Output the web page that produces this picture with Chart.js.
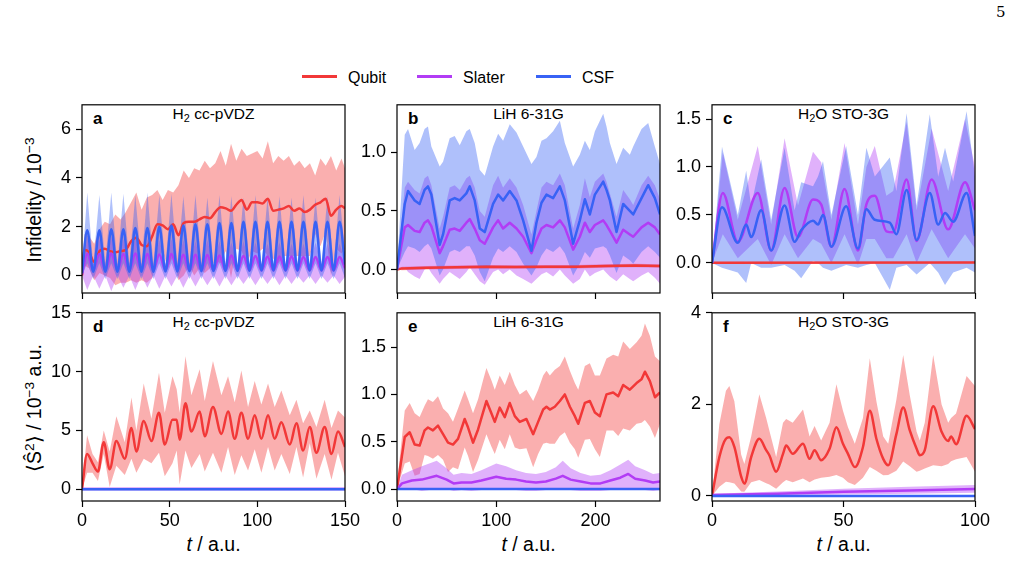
<!DOCTYPE html>
<html>
<head>
<meta charset="utf-8">
<script src="https://cdn.jsdelivr.net/npm/chart.js@4.4.1/dist/chart.umd.min.js"></script>
<style>
html,body{margin:0;padding:0;background:#fff;}
body{width:1013px;height:561px;position:relative;overflow:hidden;font-family:"Liberation Sans",Arial,Helvetica,sans-serif;color:#000;}
canvas{position:absolute;}
.t{position:absolute;white-space:nowrap;line-height:1;}
.lt{font-weight:bold;font-size:17px;}
.ttl{font-size:15.5px;transform:translateX(-50%);}
.xl{font-size:19.5px;transform:translateX(-50%);}
.yl{font-size:19.5px;transform:translate(-50%,-50%) rotate(-90deg);}
sub,sup{font-size:70%;line-height:0;}
sub{vertical-align:-0.3em;}
sup{vertical-align:0.55em;}
.lg{position:absolute;height:3px;}
</style>
</head>
<body>
<div class="t" style="left:996px;top:5px;font-family:'DejaVu Serif','Liberation Serif',serif;font-size:15px;">5</div>

<div class="lg" style="left:302px;top:75px;width:35px;background:rgb(242,56,56);"></div>
<div class="t" style="left:348px;top:70px;font-size:16px;">Qubit</div>
<div class="lg" style="left:417px;top:75px;width:35px;background:rgb(178,60,245);"></div>
<div class="t" style="left:463px;top:70px;font-size:16px;">Slater</div>
<div class="lg" style="left:536px;top:75px;width:35px;background:rgb(56,98,245);"></div>
<div class="t" style="left:582px;top:70px;font-size:16px;">CSF</div>

<div class="t yl" style="left:35px;top:200px;">Infidelity / 10<sup>−3</sup></div>
<div class="t yl" style="left:35px;top:408px;">⟨Ŝ<sup>2</sup>⟩ / 10<sup>−3</sup> a.u.</div>
<div class="t xl" style="left:213.5px;top:535px;"><i>t</i> / a.u.</div>
<div class="t xl" style="left:528.5px;top:535px;"><i>t</i> / a.u.</div>
<div class="t xl" style="left:843.5px;top:535px;"><i>t</i> / a.u.</div>

<div class="t lt" style="left:93px;top:110px;">a</div>
<div class="t lt" style="left:408px;top:110px;">b</div>
<div class="t lt" style="left:723px;top:110px;">c</div>
<div class="t lt" style="left:93px;top:318px;">d</div>
<div class="t lt" style="left:408px;top:318px;">e</div>
<div class="t lt" style="left:723px;top:318px;">f</div>

<div class="t ttl" style="left:213.5px;top:106px;">H<sub>2</sub> cc-pVDZ</div>
<div class="t ttl" style="left:528.5px;top:106px;">LiH 6-31G</div>
<div class="t ttl" style="left:843.5px;top:106px;">H<sub>2</sub>O STO-3G</div>
<div class="t ttl" style="left:213.5px;top:314px;">H<sub>2</sub> cc-pVDZ</div>
<div class="t ttl" style="left:528.5px;top:314px;">LiH 6-31G</div>
<div class="t ttl" style="left:843.5px;top:314px;">H<sub>2</sub>O STO-3G</div>

<script>
// ---------- categories / tick labels ----------
const SERIES_NAMES = ['Qubit', 'Slater', 'CSF'];
const X_TICKS_H2 = [0, 50, 100, 150];
const X_TICKS_LIH = [0, 100, 200];
const X_TICKS_H2O = [0, 50, 100];
const Y_TICKS_A = [0, 2, 4, 6];
const Y_TICKS_B = [0, 0.5, 1.0];
const Y_TICKS_C = [0, 0.5, 1.0, 1.5];
const Y_TICKS_D = [0, 5, 10, 15];
const Y_TICKS_E = [0, 0.5, 1.0, 1.5];
const Y_TICKS_F = [0, 2, 4];

// ---------- panel a : H2 cc-pVDZ infidelity ----------
const a_t = [0, 3, 6.4, 9.9, 13.3, 16.7, 20.2, 23.6, 27, 30.4, 33.9, 37.3, 40.7, 44.1, 47.6, 51, 54.4, 57.8, 61.3, 64.7, 68.1, 71.5, 75, 78.4, 81.8, 85.2, 88.7, 92.1, 95.5, 98.9, 102.4, 105.8, 109.2, 112.6, 116.1, 119.5, 122.9, 126.3, 129.8, 133.2, 136.6, 140, 143.5, 146.9, 150];
const a_csf = [0.1, 1.85, 0.15, 1.85, 0.15, 1.9, 0.15, 1.9, 0.15, 1.95, 0.15, 1.95, 0.15, 2.0, 0.16, 2.05, 0.16, 2.05, 0.17, 2.1, 0.17, 2.1, 0.18, 2.15, 0.18, 2.15, 0.18, 2.2, 0.19, 2.2, 0.2, 2.2, 0.2, 2.2, 0.2, 2.2, 0.2, 2.2, 0.2, 2.2, 0.2, 2.2, 0.2, 2.2, 0.45];
const a_csfHi = [0.3, 3.4, 0.45, 3.3, 0.5, 3.4, 0.45, 3.35, 0.5, 3.3, 0.45, 3.4, 0.5, 3.3, 0.45, 3.35, 0.5, 3.25, 0.45, 3.3, 0.5, 3.2, 0.45, 3.3, 0.5, 3.25, 0.45, 3.2, 0.5, 3.3, 0.45, 3.2, 0.5, 3.25, 0.45, 3.2, 0.5, 3.3, 0.45, 3.2, 0.5, 3.25, 0.45, 3.3, 0.9];
const a_csfLo = [0, 0.5, -0.15, 0.5, -0.15, 0.5, -0.15, 0.5, -0.15, 0.5, -0.15, 0.5, -0.15, 0.5, -0.15, 0.5, -0.15, 0.5, -0.15, 0.5, -0.15, 0.5, -0.15, 0.5, -0.15, 0.5, -0.15, 0.5, -0.15, 0.5, -0.15, 0.5, -0.15, 0.5, -0.15, 0.5, -0.15, 0.5, -0.15, 0.5, -0.15, 0.5, -0.15, 0.5, -0.1];
const a_slater = [0.05, 0.9, 0.2, 0.88, 0.2, 0.9, 0.2, 0.88, 0.2, 0.9, 0.2, 0.88, 0.2, 0.86, 0.2, 0.88, 0.2, 0.85, 0.2, 0.85, 0.2, 0.84, 0.2, 0.82, 0.2, 0.82, 0.2, 0.8, 0.2, 0.8, 0.2, 0.78, 0.2, 0.78, 0.2, 0.78, 0.2, 0.76, 0.2, 0.76, 0.2, 0.76, 0.2, 0.76, 0.3];
const a_slaterHi = [0.2, 1.55, 0.45, 1.5, 0.45, 1.6, 0.45, 1.5, 0.45, 1.55, 0.45, 1.5, 0.45, 1.45, 0.45, 1.5, 0.45, 1.45, 0.45, 1.4, 0.45, 1.45, 0.45, 1.4, 0.45, 1.35, 0.45, 1.4, 0.45, 1.35, 0.45, 1.3, 0.45, 1.35, 0.45, 1.3, 0.45, 1.3, 0.45, 1.35, 0.45, 1.3, 0.45, 1.3, 0.6];
const a_slaterLo = [0, -0.6, 0.0, -0.55, 0.0, -0.65, 0.0, -0.5, 0.0, -0.6, 0.0, -0.5, 0.0, -0.55, 0.0, -0.45, 0.0, -0.5, 0.0, -0.45, 0.0, -0.4, 0.0, -0.45, 0.0, -0.4, 0.0, -0.35, 0.0, -0.4, 0.0, -0.35, 0.0, -0.4, 0.0, -0.35, 0.0, -0.3, 0.0, -0.35, 0.0, -0.3, 0.0, -0.35, -0.05];
const a_tq = [0, 1.5, 4, 7, 10, 13, 16, 19, 22, 25, 28, 31, 34, 37, 40, 43, 46, 49, 52, 55, 58, 61, 64, 67, 70, 73, 76, 79, 82, 85, 88, 91, 94, 97, 100, 103, 106, 109, 112, 115, 118, 121, 124, 127, 130, 133, 136, 139, 142, 145, 148, 150];
const a_qubit = [0, 1.05, 0.95, 0.55, 1.0, 1.1, 1.0, 0.95, 1.0, 1.05, 1.4, 1.55, 1.25, 1.2, 1.6, 2.1, 2.05, 1.9, 2.1, 1.65, 2.15, 2.2, 2.2, 2.3, 2.4, 2.35, 2.6, 2.8, 2.75, 2.65, 2.9, 3.1, 2.7, 3.0, 3.0, 2.95, 3.15, 2.65, 2.7, 2.75, 2.85, 2.65, 2.75, 2.6, 2.7, 2.9, 3.0, 3.15, 2.45, 2.7, 2.85, 2.75];
const a_qubitHi = [0.3, 1.7, 1.6, 1.3, 1.9, 2.2, 2.1, 2.5, 2.3, 2.6, 3.0, 3.4, 2.7, 3.2, 3.3, 3.5, 3.1, 3.5, 3.4, 3.7, 4.3, 4.0, 4.4, 4.3, 4.7, 4.4, 4.6, 5.1, 4.5, 5.4, 4.7, 5.2, 4.9, 5.0, 5.1, 4.8, 5.5, 4.6, 4.9, 4.7, 4.9, 4.5, 4.7, 4.4, 4.6, 4.1, 4.8, 4.5, 4.9, 4.3, 4.8, 4.4];
const a_qubitLo = [0, 0.4, 0.3, -0.2, 0.1, 0.0, -0.1, -0.4, -0.3, -0.3, -0.2, -0.3, -0.2, -0.3, -0.1, 0.7, 1.0, 0.3, 0.8, -0.2, 0.0, 0.4, 0.0, 0.3, 0.1, 0.3, 0.6, 0.5, 1.0, -0.1, 1.1, 1.0, 0.5, 1.0, 0.9, 1.1, 0.8, 0.7, 0.5, 0.8, 0.8, 0.8, 0.8, 0.8, 0.8, 1.7, 1.2, 1.8, 0.0, 1.1, 0.9, 1.1];

// ---------- panel b : LiH 6-31G infidelity ----------
const b_t = [0, 7.8, 11.1, 17.8, 22.8, 27.8, 31.2, 34.6, 43, 46.4, 53.1, 58.1, 63.2, 69.9, 73.3, 78.3, 83.4, 88.4, 96.8, 101.9, 106.9, 113.6, 120.4, 127.1, 135.5, 140.5, 145.6, 150.6, 157.3, 164.1, 169.1, 177.5, 184.2, 189.3, 194.3, 199.4, 207.8, 211.1, 214.5, 221.2, 227.9, 234.6, 238, 246.4, 253.1, 259.8, 265];
const b_csf = [0, 0.56, 0.67, 0.59, 0.56, 0.68, 0.71, 0.64, 0.21, 0.3, 0.59, 0.61, 0.59, 0.65, 0.71, 0.59, 0.35, 0.32, 0.56, 0.64, 0.59, 0.67, 0.59, 0.42, 0.16, 0.4, 0.57, 0.64, 0.61, 0.71, 0.59, 0.22, 0.42, 0.6, 0.47, 0.64, 0.75, 0.68, 0.59, 0.32, 0.56, 0.5, 0.47, 0.61, 0.72, 0.61, 0.47];
const b_csfHi = [0, 1.15, 1.2, 1.02, 1.08, 1.2, 1.22, 1.05, 0.88, 0.92, 1.12, 1.14, 1.06, 1.18, 1.2, 1.08, 0.85, 0.8, 1.05, 1.16, 1.1, 1.24, 1.17, 1.05, 0.9, 0.96, 1.1, 1.12, 1.18, 1.27, 1.08, 0.88, 0.98, 1.1, 1.02, 1.18, 1.33, 1.22, 1.08, 0.9, 1.04, 0.98, 1.05, 1.2, 1.25, 1.05, 0.9];
const b_csfLo = [0, 0.15, 0.2, 0.18, 0.15, 0.2, 0.22, 0.18, -0.05, 0.0, 0.15, 0.17, 0.15, 0.2, 0.2, 0.12, -0.02, -0.1, 0.1, 0.18, 0.15, 0.2, 0.15, 0.05, -0.05, 0.02, 0.12, 0.18, 0.15, 0.2, 0.14, -0.05, 0.05, 0.15, 0.1, 0.18, 0.2, 0.18, 0.12, -0.03, 0.12, 0.08, 0.05, 0.15, 0.2, 0.15, 0.1];
const b_slater = [0, 0.36, 0.38, 0.33, 0.32, 0.4, 0.42, 0.37, 0.14, 0.2, 0.34, 0.35, 0.33, 0.4, 0.43, 0.35, 0.25, 0.22, 0.36, 0.42, 0.35, 0.4, 0.35, 0.28, 0.14, 0.25, 0.35, 0.38, 0.36, 0.42, 0.36, 0.17, 0.28, 0.4, 0.32, 0.38, 0.42, 0.38, 0.33, 0.23, 0.34, 0.3, 0.28, 0.36, 0.4, 0.36, 0.3];
const b_slaterHi = [0, 0.7, 0.75, 0.68, 0.65, 0.78, 0.8, 0.72, 0.35, 0.45, 0.7, 0.72, 0.68, 0.78, 0.8, 0.7, 0.5, 0.45, 0.72, 0.8, 0.7, 0.78, 0.7, 0.55, 0.3, 0.5, 0.7, 0.75, 0.72, 0.82, 0.72, 0.35, 0.55, 0.78, 0.62, 0.75, 0.82, 0.75, 0.65, 0.45, 0.68, 0.6, 0.55, 0.72, 0.8, 0.72, 0.6];
const b_slaterLo = [0, 0.02, -0.02, -0.06, -0.08, 0.0, 0.02, -0.03, -0.12, -0.08, -0.02, -0.05, -0.08, -0.02, 0.02, -0.04, -0.1, -0.13, -0.02, 0.0, -0.04, 0.0, -0.05, -0.08, -0.12, -0.08, -0.04, -0.02, -0.06, 0.0, -0.05, -0.12, -0.08, 0.0, -0.06, -0.03, 0.0, -0.03, -0.06, -0.1, -0.04, -0.08, -0.1, -0.05, -0.02, -0.07, -0.12];
const b_tq = [0, 5, 30, 60, 90, 120, 150, 180, 210, 240, 265];
const b_qubit = [0, 0.01, 0.015, 0.02, 0.025, 0.022, 0.025, 0.025, 0.03, 0.035, 0.03];
const b_qubitHi = [0, 0.025, 0.03, 0.035, 0.04, 0.037, 0.04, 0.04, 0.045, 0.05, 0.045];
const b_qubitLo = [0, -0.005, 0.0, 0.005, 0.01, 0.007, 0.01, 0.01, 0.015, 0.02, 0.015];

// ---------- panel c : H2O STO-3G infidelity ----------
const c_ts = [0, 4.1, 9.8, 17.4, 22.5, 27.6, 32.7, 38.4, 41.5, 45.4, 50.4, 55.5, 58.7, 61.9, 66.3, 68.9, 74, 77.8, 83.5, 89.8, 96.2, 100];
const c_slater = [0, 0.73, 0.22, 0.73, 0.13, 0.78, 0.27, 0.66, 0.61, 0.17, 0.77, 0.13, 0.61, 0.7, 0.33, 0.32, 0.87, 0.23, 0.87, 0.35, 0.84, 0.55];
const c_slaterHi = [0, 1.15, 0.45, 1.22, 0.4, 1.3, 0.6, 1.16, 1.05, 0.45, 1.25, 0.4, 1.0, 1.22, 0.7, 0.75, 1.47, 0.55, 1.4, 0.75, 1.5, 1.0];
const c_slaterLo = [0, 0.3, 0.05, 0.25, -0.02, 0.3, 0.05, 0.25, 0.2, 0.0, 0.3, -0.02, 0.25, 0.25, 0.05, 0.05, 0.3, 0.0, 0.35, 0.05, 0.3, 0.15];
const c_tc = [0, 3.8, 9.8, 13, 14.9, 18.7, 22.5, 27.6, 31.4, 33.9, 38.4, 40.3, 42.2, 45.4, 51, 55.5, 58.7, 61.9, 67.6, 70.1, 74, 77.8, 82.8, 86, 88.6, 91.7, 96.8, 100];
const c_csf = [0, 0.58, 0.21, 0.4, 0.27, 0.55, 0.13, 0.6, 0.22, 0.34, 0.44, 0.4, 0.5, 0.17, 0.59, 0.15, 0.56, 0.45, 0.42, 0.3, 0.76, 0.24, 0.73, 0.4, 0.52, 0.43, 0.73, 0.28];
const c_csfHi = [0, 1.21, 0.5, 0.96, 0.6, 1.08, 0.45, 1.2, 0.55, 0.84, 0.8, 0.9, 1.06, 0.5, 1.22, 0.5, 1.2, 0.9, 1.1, 0.75, 1.56, 0.6, 1.55, 0.9, 1.2, 0.85, 1.58, 0.9];
const c_csfLo = [0, -0.05, -0.1, -0.21, 0.0, -0.05, -0.05, -0.02, -0.08, -0.16, 0.02, 0.0, -0.05, -0.08, -0.02, -0.05, -0.02, 0.0, -0.28, -0.05, -0.02, -0.12, 0.0, -0.1, -0.23, -0.1, -0.05, -0.1];
const c_tq = [0, 100];
const c_qubit = [0.003, 0.005];
const c_qubitHi = [0.01, 0.012];
const c_qubitLo = [-0.004, -0.002];

// ---------- panel d : H2 cc-pVDZ <S^2> ----------
const d_tq = [0, 2.9, 6, 9.1, 12.4, 15.8, 19.6, 24.4, 28.2, 31, 35.2, 39.6, 43.9, 47.2, 51.6, 54, 55.7, 59, 62.4, 67.1, 70, 74.7, 79.5, 83.3, 87.1, 90.9, 94.7, 98.5, 102.3, 106.1, 109.9, 113.7, 118.5, 122.3, 126.1, 129.9, 133.7, 138.4, 142.3, 146, 150];
const d_qubit = [0, 3.0, 2.2, 1.5, 4.0, 1.7, 4.1, 2.6, 5.2, 3.2, 5.8, 4.1, 6.5, 3.8, 5.9, 5.9, 4.2, 7.3, 4.9, 6.6, 4.5, 7.0, 4.7, 6.6, 4.3, 6.5, 4.3, 6.3, 4.3, 6.3, 4.3, 5.7, 3.8, 5.6, 3.3, 5.3, 3.1, 5.3, 3.0, 4.9, 3.6];
const d_qubitHi = [0.3, 4.6, 3.0, 2.3, 5.0, 3.2, 6.2, 4.0, 7.8, 5.0, 9.0, 6.0, 9.9, 6.5, 9.6, 8.5, 6.5, 11.3, 8.0, 10.2, 7.5, 10.9, 8.0, 9.6, 7.4, 10.1, 7.0, 9.2, 7.2, 9.0, 7.0, 8.4, 6.3, 7.6, 5.6, 6.7, 5.3, 7.6, 5.2, 6.7, 6.1];
const d_qubitLo = [0, 1.4, 1.4, 0.7, 3.0, 0.2, 2.0, 1.2, 2.6, 1.4, 2.6, 2.2, 3.1, 1.1, 2.2, 3.3, 0.4, 3.3, 1.8, 3.0, 1.5, 3.1, 1.4, 3.6, 1.2, 2.9, 1.6, 3.4, 1.4, 3.6, 1.6, 3.0, 1.3, 3.6, 1.0, 3.9, 0.9, 3.0, 0.8, 3.1, 1.1];
const d_ts = [0, 50, 100, 150];
const d_slater = [0.02, 0.03, 0.03, 0.03];
const d_slaterHi = [0.12, 0.14, 0.14, 0.14];
const d_slaterLo = [-0.04, -0.04, -0.04, -0.04];
const d_tc = [0, 150];
const d_csf = [0, 0];
const d_csfHi = [0.02, 0.02];
const d_csfLo = [-0.02, -0.02];

// ---------- panel e : LiH 6-31G <S^2> ----------
const e_tq = [0, 7.8, 12.8, 17.8, 22.8, 27.8, 31.2, 36.2, 41.3, 46.4, 51.4, 56.4, 61.5, 68.2, 71.6, 76.6, 81.7, 86.7, 90.1, 95.1, 98.5, 103.5, 108.6, 113.6, 118.7, 123.7, 130.4, 137.2, 142.2, 147.3, 150.6, 154, 159, 164.1, 169.1, 174.2, 179.2, 182.6, 189.3, 194.3, 199.4, 204.4, 211.1, 217.8, 222.9, 227.9, 234.6, 241.4, 246.4, 249.8, 254.8, 259.9, 265];
const e_qubit = [0, 0.55, 0.6, 0.47, 0.46, 0.62, 0.65, 0.62, 0.67, 0.58, 0.49, 0.47, 0.53, 0.74, 0.65, 0.49, 0.63, 0.81, 0.93, 0.8, 0.71, 0.86, 0.76, 0.91, 0.77, 0.71, 0.74, 0.58, 0.71, 0.84, 0.87, 0.84, 0.87, 0.93, 1.0, 0.87, 0.77, 0.69, 0.91, 0.93, 0.81, 0.77, 1.0, 1.02, 0.98, 1.1, 1.05, 1.12, 1.16, 1.24, 1.14, 0.97, 1.02];
const e_qubitHi = [0.05, 0.83, 0.91, 0.8, 0.76, 0.88, 0.95, 0.92, 0.98, 0.85, 0.8, 0.71, 0.85, 1.04, 0.95, 0.8, 0.95, 1.15, 1.28, 1.15, 1.05, 1.2, 1.1, 1.24, 1.1, 1.0, 1.05, 0.93, 1.05, 1.2, 1.25, 1.2, 1.26, 1.3, 1.4, 1.25, 1.12, 1.05, 1.3, 1.33, 1.2, 1.2, 1.38, 1.42, 1.4, 1.56, 1.48, 1.55, 1.62, 1.75, 1.62, 1.4, 1.35];
const e_qubitLo = [0, 0.27, 0.29, 0.14, 0.16, 0.36, 0.35, 0.32, 0.36, 0.31, 0.18, 0.23, 0.21, 0.44, 0.35, 0.18, 0.31, 0.47, 0.58, 0.45, 0.37, 0.52, 0.42, 0.58, 0.44, 0.42, 0.43, 0.23, 0.37, 0.48, 0.49, 0.48, 0.48, 0.56, 0.6, 0.49, 0.42, 0.33, 0.52, 0.53, 0.42, 0.34, 0.62, 0.62, 0.56, 0.64, 0.62, 0.69, 0.7, 0.73, 0.66, 0.54, 0.69];
const e_ts = [0, 5, 15, 25, 40, 50, 57, 65, 75, 85, 100, 110, 120, 130, 140, 150, 160, 167, 175, 185, 195, 205, 215, 225, 233, 240, 250, 258, 265];
const e_slater = [0, 0.06, 0.09, 0.1, 0.14, 0.1, 0.06, 0.07, 0.07, 0.09, 0.13, 0.11, 0.1, 0.08, 0.07, 0.08, 0.11, 0.14, 0.1, 0.08, 0.06, 0.06, 0.09, 0.12, 0.16, 0.11, 0.09, 0.07, 0.08];
const e_slaterHi = [0, 0.15, 0.2, 0.24, 0.3, 0.22, 0.15, 0.17, 0.16, 0.2, 0.27, 0.24, 0.2, 0.17, 0.16, 0.18, 0.23, 0.3, 0.22, 0.17, 0.14, 0.15, 0.2, 0.26, 0.31, 0.24, 0.2, 0.16, 0.17];
const e_slaterLo = [0, -0.01, 0.0, -0.02, 0.0, 0.0, -0.02, -0.01, -0.02, -0.01, 0.0, -0.01, -0.01, -0.02, -0.02, -0.01, 0.0, 0.0, -0.01, -0.02, -0.02, -0.02, -0.01, 0.0, 0.01, 0.0, -0.01, -0.02, -0.01];
const e_tc = [0, 265];
const e_csf = [0, 0];
const e_csfHi = [0.005, 0.005];
const e_csfLo = [-0.005, -0.005];

// ---------- panel f : H2O STO-3G <S^2> ----------
const f_tq = [0, 2.8, 5.3, 6.6, 8.5, 11.1, 12.3, 14.9, 18, 20.6, 21.8, 24.4, 27, 28.2, 30.7, 34.6, 37.1, 39, 41.5, 44.7, 47.3, 49.8, 51.7, 54.3, 57.4, 60, 62.5, 65.1, 67, 70.1, 72.7, 75.2, 77.8, 79, 80.9, 84.1, 87.3, 89.8, 90.9, 92.8, 96.8, 100];
const f_qubit = [0, 0.85, 1.25, 1.28, 1.07, 0.42, 0.27, 0.85, 1.25, 1.0, 0.89, 0.53, 0.92, 1.1, 0.92, 1.14, 0.81, 1.0, 0.78, 1.03, 1.5, 1.14, 0.92, 0.63, 1.07, 1.86, 1.25, 0.81, 0.67, 1.35, 1.93, 1.43, 1.03, 0.89, 1.0, 1.96, 1.4, 1.2, 1.3, 1.13, 1.75, 1.46];
const f_qubitHi = [0, 1.57, 2.3, 2.4, 2.07, 0.9, 0.7, 1.3, 2.22, 1.7, 1.43, 0.85, 1.6, 1.68, 1.6, 1.89, 1.3, 1.53, 1.21, 1.6, 2.44, 1.86, 1.5, 1.14, 1.7, 3.01, 2.07, 1.3, 1.14, 2.1, 3.08, 2.2, 1.4, 1.21, 1.6, 3.08, 2.0, 1.6, 1.7, 1.8, 2.62, 2.4];
const f_qubitLo = [0, 0.2, 0.31, 0.3, 0.27, 0.1, 0.09, 0.3, 0.35, 0.28, 0.25, 0.16, 0.3, 0.35, 0.3, 0.38, 0.3, 0.36, 0.4, 0.42, 0.46, 0.4, 0.3, 0.24, 0.4, 0.63, 0.55, 0.45, 0.46, 0.55, 0.75, 0.65, 0.53, 0.55, 0.6, 0.67, 0.65, 0.7, 0.76, 0.8, 0.85, 0.53];
const f_ts = [0, 25, 50, 75, 100];
const f_slater = [0.02, 0.05, 0.09, 0.12, 0.15];
const f_slaterHi = [0.05, 0.1, 0.16, 0.2, 0.24];
const f_slaterLo = [0, 0.01, 0.03, 0.05, 0.07];
const f_tc = [0, 100];
const f_csf = [0, 0];
const f_csfHi = [0.01, 0.01];
const f_csfLo = [-0.01, -0.01];

// ---------- styling ----------
const FONT = "'Liberation Sans', Arial, Helvetica, sans-serif";
const LINE_COL = {Qubit: 'rgb(242,56,56)', Slater: 'rgb(178,60,245)', CSF: 'rgb(56,98,245)'};
const BAND_COL = {Qubit: 'rgba(242,56,56,0.4)', Slater: 'rgba(178,60,245,0.4)', CSF: 'rgba(56,98,245,0.4)'};

function pts(t, v) { return t.map((x, i) => ({x: x, y: v[i]})); }

function addSeries(ds, name, t, m, hi, lo, smooth) {
  const k = SERIES_NAMES.indexOf(name);
  ds.push({label: name + ' spread', data: pts(t, hi), borderWidth: 0, borderColor: 'rgba(0,0,0,0)',
    pointRadius: 0, fill: '+1', backgroundColor: BAND_COL[name], tension: 0, order: 20 - k});
  ds.push({label: name + ' spread low', data: pts(t, lo), borderWidth: 0, borderColor: 'rgba(0,0,0,0)',
    pointRadius: 0, fill: false, tension: 0, order: 20 - k});
  ds.push({label: name, data: pts(t, m), borderColor: LINE_COL[name], borderWidth: 2.5, pointRadius: 0,
    fill: false, tension: 0, cubicInterpolationMode: smooth ? 'monotone' : 'default', order: 10 - k,
    borderJoinStyle: 'round', borderCapStyle: 'butt'});
}

function axis(min, max, ticks, dec, show, isX) {
  return {
    type: 'linear', min: min, max: max,
    border: {display: false},
    grid: {display: true, drawOnChartArea: false, drawTicks: true, tickLength: 6, tickWidth: 1.2, tickColor: '#000'},
    ticks: {color: show ? '#000' : 'rgba(0,0,0,0)', font: {family: FONT, size: 18}, padding: isX ? 3 : 5,
      autoSkip: false, maxRotation: 0, includeBounds: false, callback: v => Number(v).toFixed(dec)},
    afterBuildTicks: s => { s.ticks = ticks.map(v => ({value: v})); },
    afterFit: s => { if (isX) s.height = 40; else s.width = 60; }
  };
}

const framePlugin = {
  id: 'frame',
  afterDatasetsDraw(chart) {
    const a = chart.chartArea, c = chart.ctx;
    c.save(); c.strokeStyle = '#000'; c.lineWidth = 1.2;
    c.strokeRect(a.left, a.top, a.right - a.left, a.bottom - a.top);
    c.restore();
  }
};

const W = 263, H = 190;
const panels = [
  {L: 82, T: 103, xmax: 150, ymin: -0.72, ymax: 7.0, xt: X_TICKS_H2, yt: Y_TICKS_A, dec: 0, showX: false,
   s: [['Qubit', a_tq, a_qubit, a_qubitHi, a_qubitLo, true], ['Slater', a_t, a_slater, a_slaterHi, a_slaterLo, true], ['CSF', a_t, a_csf, a_csfHi, a_csfLo, true]]},
  {L: 397, T: 103, xmax: 265, ymin: -0.2, ymax: 1.406, xt: X_TICKS_LIH, yt: Y_TICKS_B, dec: 1, showX: false,
   s: [['Qubit', b_tq, b_qubit, b_qubitHi, b_qubitLo, false], ['Slater', b_t, b_slater, b_slaterHi, b_slaterLo, false], ['CSF', b_t, b_csf, b_csfHi, b_csfLo, false]]},
  {L: 712, T: 103, xmax: 100, ymin: -0.313, ymax: 1.648, xt: X_TICKS_H2O, yt: Y_TICKS_C, dec: 1, showX: false,
   s: [['Qubit', c_tq, c_qubit, c_qubitHi, c_qubitLo, false], ['Slater', c_ts, c_slater, c_slaterHi, c_slaterLo, true], ['CSF', c_tc, c_csf, c_csfHi, c_csfLo, true]]},
  {L: 82, T: 311, xmax: 150, ymin: -1.0, ymax: 15.0, xt: X_TICKS_H2, yt: Y_TICKS_D, dec: 0, showX: true,
   s: [['Qubit', d_tq, d_qubit, d_qubitHi, d_qubitLo, true], ['Slater', d_ts, d_slater, d_slaterHi, d_slaterLo, false], ['CSF', d_tc, d_csf, d_csfHi, d_csfLo, false]]},
  {L: 397, T: 311, xmax: 265, ymin: -0.126, ymax: 1.862, xt: X_TICKS_LIH, yt: Y_TICKS_E, dec: 1, showX: true,
   s: [['Qubit', e_tq, e_qubit, e_qubitHi, e_qubitLo, false], ['Slater', e_ts, e_slater, e_slaterHi, e_slaterLo, false], ['CSF', e_tc, e_csf, e_csfHi, e_csfLo, false]]},
  {L: 712, T: 311, xmax: 100, ymin: -0.11, ymax: 4.0, xt: X_TICKS_H2O, yt: Y_TICKS_F, dec: 0, showX: true,
   s: [['Qubit', f_tq, f_qubit, f_qubitHi, f_qubitLo, true], ['Slater', f_ts, f_slater, f_slaterHi, f_slaterLo, false], ['CSF', f_tc, f_csf, f_csfHi, f_csfLo, false]]}
];

panels.forEach(p => {
  const cv = document.createElement('canvas');
  const cw = W + 60 + 22, ch = H + 14 + 40;
  cv.width = cw; cv.height = ch;
  cv.style.width = cw + 'px'; cv.style.height = ch + 'px';
  cv.style.left = (p.L - 60) + 'px'; cv.style.top = (p.T - 14) + 'px';
  document.body.appendChild(cv);
  const ds = [];
  p.s.forEach(s => addSeries(ds, s[0], s[1], s[2], s[3], s[4], s[5]));
  new Chart(cv, {
    type: 'line',
    data: {datasets: ds},
    options: {
      responsive: false, animation: false, devicePixelRatio: 1,
      layout: {padding: {left: 0, top: 14, right: 22, bottom: 0}},
      plugins: {legend: {display: false}, tooltip: {enabled: false}},
      scales: {
        x: axis(0, p.xmax, p.xt, 0, p.showX, true),
        y: axis(p.ymin, p.ymax, p.yt, p.dec, true, false)
      }
    },
    plugins: [framePlugin]
  });
});
</script>
</body>
</html>
